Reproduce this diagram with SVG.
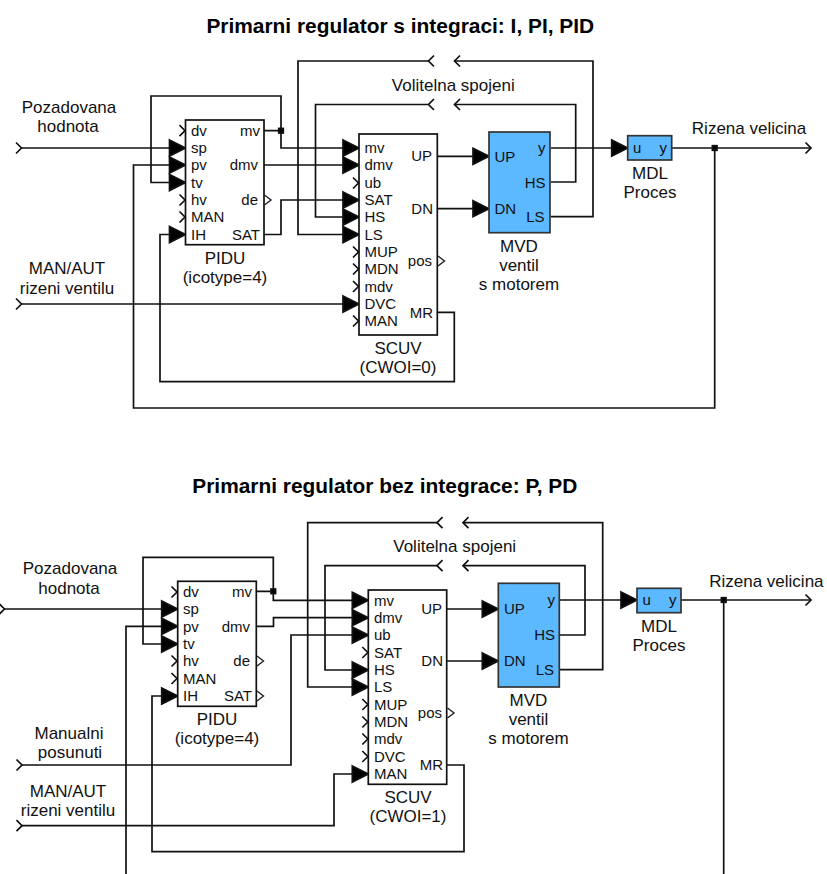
<svg xmlns="http://www.w3.org/2000/svg" xmlns:xlink="http://www.w3.org/1999/xlink" width="827" height="874" viewBox="0 0 827 874">
<style>
text{font-family:"Liberation Sans",Arial,sans-serif;fill:#111}
.l{font-size:17px;text-anchor:middle}
.t{font-size:20.9px;font-weight:bold;text-anchor:middle;fill:#000}
.p{font-size:15px}
.e{text-anchor:end}
.b{fill:#fff;stroke:#111;stroke-width:1.7}
.m{fill:#5cb8ff;stroke:#333;stroke-width:1.7}
.w{fill:none;stroke:#111;stroke-width:1.7}
.c{fill:none;stroke:#111;stroke-width:1.7}
.o{fill:none;stroke:#222;stroke-width:1.4}
</style>
<defs>
<polygon id="a" points="-16,-8 0,0 -16,8" fill="#000"/>
<polyline id="i" class="c" points="-5.5,-5.5 0,0 -5.5,5.5"/>
<polyline id="x" class="o" points="0,-5 6.5,0 0,5"/>
<polyline id="r" class="c" points="5.5,-5.5 0,0 5.5,5.5"/>
<rect id="j" x="-2.3" y="-2.3" width="4.6" height="4.6" fill="#000"/>
</defs>
<text class="t" x="400.3" y="32.5">Primarni regulator s integraci: I, PI, PID</text>
<text class="t" x="384.8" y="492.5">Primarni regulator bez integrace: P, PD</text>

<g id="connectors-top" class="w">
<path class="w" d="M21.5 148H170"/>
<path class="w" d="M264 130.7H281V96H151V182.5H170"/>
<path class="w" d="M281 130.7V148H344"/>
<path class="w" d="M264 165H344"/>
<path class="w" d="M264 234.5H281V200H344"/>
<path class="w" d="M344 217H315.5V104.5H428.5"/>
<path class="w" d="M454.5 104.5H575.7V182H551"/>
<path class="w" d="M344 234.5H298V61H428.5"/>
<path class="w" d="M454.5 61H593V216.7H551"/>
<path class="w" d="M170 165H133.5V408H714.7V148"/>
<path class="w" d="M170 234.5H160V381.7H454.3V312.3H438"/>
<path class="w" d="M21.5 304H344"/>
<path class="w" d="M438 156.3H473"/>
<path class="w" d="M438 208.7H473"/>
<path class="w" d="M551 148H612"/>
<path class="w" d="M672 148H810"/>
<use href="#i" x="21.5" y="148"/>
<use href="#i" x="21.5" y="304"/>
<use href="#r" x="428.5" y="61"/>
<use href="#r" x="454.5" y="61"/>
<use href="#r" x="428.5" y="104.5"/>
<use href="#r" x="454.5" y="104.5"/>
<use href="#i" x="811" y="148"/>
<use href="#j" x="281" y="130.7"/>
<use href="#j" x="714.7" y="148"/>
<use href="#a" x="185.5" y="148"/>
<use href="#a" x="185.5" y="165"/>
<use href="#a" x="185.5" y="182.5"/>
<use href="#a" x="185.5" y="234.5"/>
<use href="#a" x="359" y="148"/>
<use href="#a" x="359" y="165"/>
<use href="#a" x="359" y="200"/>
<use href="#a" x="359" y="217"/>
<use href="#a" x="359" y="234.5"/>
<use href="#a" x="359" y="304"/>
<use href="#a" x="489" y="156.3"/>
<use href="#a" x="489" y="208.7"/>
<use href="#a" x="627.7" y="148"/>
</g>

<g id="labels-top">
<text class="l" x="69" y="113">Pozadovana</text>
<text class="l" x="68" y="132">hodnota</text>
<text class="l" x="67" y="274">MAN/AUT</text>
<text class="l" x="67" y="294">rizeni ventilu</text>
<text class="l" x="453.3" y="91">Volitelna spojeni</text>
<text class="l" x="749" y="134">Rizena velicina</text>
</g>

<g id="pidu-top">
<rect class="b" x="185.5" y="120" width="78.5" height="124.7"/>
<use href="#i" x="185" y="130.7"/><use href="#i" x="185" y="200"/><use href="#i" x="185" y="217"/>
<use href="#x" x="264.5" y="200"/>
<text class="p" x="191" y="136">dv</text><text class="p" x="191" y="153">sp</text><text class="p" x="191" y="170">pv</text><text class="p" x="191" y="188">tv</text><text class="p" x="191" y="205">hv</text><text class="p" x="191" y="222">MAN</text><text class="p" x="191" y="240">IH</text>
<text class="p e" x="260" y="136">mv</text><text class="p e" x="258" y="170">dmv</text><text class="p e" x="258" y="205">de</text><text class="p e" x="260" y="240">SAT</text>
<text class="l" x="225" y="264">PIDU</text><text class="l" x="225" y="283">(icotype=4)</text>
</g>

<g id="scuv-top">
<rect class="b" x="359" y="134" width="78.3" height="201"/>
<use href="#i" x="358.5" y="183"/><use href="#i" x="358.5" y="252"/><use href="#i" x="358.5" y="269"/><use href="#i" x="358.5" y="286.5"/><use href="#i" x="358.5" y="321"/>
<use href="#x" x="438" y="261"/>
<text class="p" x="364.5" y="153">mv</text><text class="p" x="364.5" y="170">dmv</text><text class="p" x="364.5" y="188">ub</text><text class="p" x="364.5" y="205">SAT</text><text class="p" x="364.5" y="222">HS</text><text class="p" x="364.5" y="240">LS</text><text class="p" x="364.5" y="257">MUP</text><text class="p" x="364.5" y="274">MDN</text><text class="p" x="364.5" y="292">mdv</text><text class="p" x="364.5" y="309">DVC</text><text class="p" x="364.5" y="326">MAN</text>
<text class="p e" x="432" y="161">UP</text><text class="p e" x="433" y="214">DN</text><text class="p e" x="432" y="266">pos</text><text class="p e" x="433" y="318">MR</text>
<text class="l" x="398" y="354">SCUV</text><text class="l" x="398" y="373">(CWOI=0)</text>
</g>

<g id="mvd-top">
<rect class="m" x="489" y="132" width="61" height="100.7"/>
<text class="p" x="494.5" y="162">UP</text><text class="p" x="494.5" y="214">DN</text>
<text class="p e" x="545.5" y="153">y</text><text class="p e" x="545.5" y="188">HS</text><text class="p e" x="544.5" y="222">LS</text>
<text class="l" x="519" y="252">MVD</text><text class="l" x="519" y="271">ventil</text><text class="l" x="519" y="290">s motorem</text>
</g>

<g id="mdl-top">
<rect class="m" x="627.7" y="135.7" width="44" height="24.3"/>
<text class="p" x="633" y="153">u</text><text class="p e" x="667" y="153">y</text>
<text class="l" x="650" y="179">MDL</text><text class="l" x="650" y="198">Proces</text>
</g>

<g id="connectors-bottom" class="w">
<path class="w" d="M4 609H162"/>
<path class="w" d="M256.3 591.3H273.3V557.3H143V644H162"/>
<path class="w" d="M273.3 591.3V600.3H353"/>
<path class="w" d="M256.3 626.3H273.5V617.7H353"/>
<path class="w" d="M22 765H291V635H353"/>
<path class="w" d="M22 825.7H334V774H353"/>
<path class="w" d="M353 670H325V565.7H437"/>
<path class="w" d="M463 565.7H585V635H560"/>
<path class="w" d="M353 687H307.7V522.7H437"/>
<path class="w" d="M463 522.7H602.7V669.7H560"/>
<path class="w" d="M162 626.3H126V874"/>
<path class="w" d="M162 696H152V851.7H464V765H447"/>
<path class="w" d="M447 609H482"/>
<path class="w" d="M447 661H482"/>
<path class="w" d="M560 600H621"/>
<path class="w" d="M681 600H810"/>
<path class="w" d="M723.7 600V874"/>
<use href="#i" x="4.5" y="609"/>
<use href="#i" x="22" y="765"/>
<use href="#i" x="22" y="825.7"/>
<use href="#r" x="437" y="522.7"/>
<use href="#r" x="463" y="522.7"/>
<use href="#r" x="437" y="565.7"/>
<use href="#r" x="463" y="565.7"/>
<use href="#i" x="811" y="600"/>
<use href="#j" x="273.3" y="591.3"/>
<use href="#j" x="723.7" y="600"/>
<use href="#a" x="177.7" y="609"/>
<use href="#a" x="177.7" y="626.3"/>
<use href="#a" x="177.7" y="644"/>
<use href="#a" x="177.7" y="696"/>
<use href="#a" x="368.3" y="600.3"/>
<use href="#a" x="368.3" y="617.7"/>
<use href="#a" x="368.3" y="635"/>
<use href="#a" x="368.3" y="670"/>
<use href="#a" x="368.3" y="687"/>
<use href="#a" x="368.3" y="774"/>
<use href="#a" x="498.3" y="609"/>
<use href="#a" x="498.3" y="661"/>
<use href="#a" x="637" y="600"/>
</g>

<g id="labels-bottom">
<text class="l" x="70" y="574">Pozadovana</text>
<text class="l" x="69" y="594">hodnota</text>
<text class="l" x="69" y="739">Manualni</text>
<text class="l" x="70" y="758">posunuti</text>
<text class="l" x="68" y="797">MAN/AUT</text>
<text class="l" x="68" y="816">rizeni ventilu</text>
<text class="l" x="454.7" y="552.3">Volitelna spojeni</text>
<text class="l" x="766.4" y="587.3">Rizena velicina</text>
</g>

<g id="pidu-bottom">
<rect class="b" x="177.7" y="581.3" width="78.6" height="125"/>
<use href="#i" x="177" y="592"/><use href="#i" x="177" y="661"/><use href="#i" x="177" y="678.5"/>
<use href="#x" x="257" y="661"/><use href="#x" x="257" y="696"/>
<text class="p" x="183" y="597">dv</text><text class="p" x="183" y="614">sp</text><text class="p" x="183" y="632">pv</text><text class="p" x="183" y="649">tv</text><text class="p" x="183" y="666">hv</text><text class="p" x="183" y="684">MAN</text><text class="p" x="183" y="701">IH</text>
<text class="p e" x="252" y="597">mv</text><text class="p e" x="250" y="632">dmv</text><text class="p e" x="250" y="666">de</text><text class="p e" x="252" y="701">SAT</text>
<text class="l" x="217" y="725">PIDU</text><text class="l" x="217" y="744">(icotype=4)</text>
</g>

<g id="scuv-bottom">
<rect class="b" x="368.3" y="590" width="78.4" height="194.3"/>
<use href="#i" x="367.8" y="652.5"/><use href="#i" x="367.8" y="704.5"/><use href="#i" x="367.8" y="722"/><use href="#i" x="367.8" y="739"/><use href="#i" x="367.8" y="756.5"/>
<use href="#x" x="447.5" y="713"/>
<text class="p" x="374" y="606">mv</text><text class="p" x="374" y="623">dmv</text><text class="p" x="374" y="640">ub</text><text class="p" x="374" y="658">SAT</text><text class="p" x="374" y="675">HS</text><text class="p" x="374" y="692">LS</text><text class="p" x="374" y="710">MUP</text><text class="p" x="374" y="727">MDN</text><text class="p" x="374" y="744">mdv</text><text class="p" x="374" y="762">DVC</text><text class="p" x="374" y="779">MAN</text>
<text class="p e" x="442" y="614">UP</text><text class="p e" x="443" y="666">DN</text><text class="p e" x="442" y="718">pos</text><text class="p e" x="443" y="770">MR</text>
<text class="l" x="408" y="803">SCUV</text><text class="l" x="408" y="822">(CWOI=1)</text>
</g>

<g id="mvd-bottom">
<rect class="m" x="498.3" y="583.3" width="61" height="103.7"/>
<text class="p" x="504" y="614">UP</text><text class="p" x="504" y="666">DN</text>
<text class="p e" x="555" y="605">y</text><text class="p e" x="555" y="640">HS</text><text class="p e" x="554" y="675">LS</text>
<text class="l" x="528.5" y="706">MVD</text><text class="l" x="528.5" y="725">ventil</text><text class="l" x="528.5" y="744">s motorem</text>
</g>

<g id="mdl-bottom">
<rect class="m" x="637" y="588.3" width="44" height="24.4"/>
<text class="p" x="642.5" y="605">u</text><text class="p e" x="676.5" y="605">y</text>
<text class="l" x="659" y="632">MDL</text><text class="l" x="659" y="651">Proces</text>
</g>
</svg>
